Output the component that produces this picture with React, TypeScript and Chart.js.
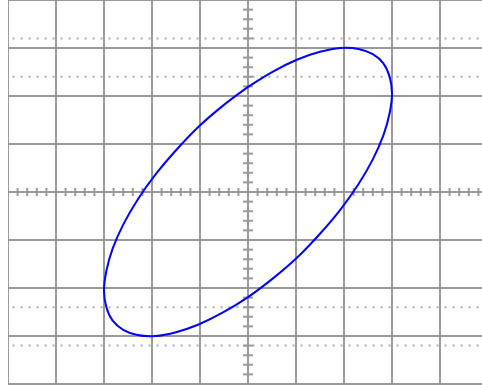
import React, { useEffect, useRef } from "react";
import { Chart, registerables } from "chart.js";

Chart.register(...registerables);

// Graticule: 10 x 8 divisions
const xRange = [-5, 5];
const yRange = [-4, 4];
const dottedLevels = [3.2, 2.4, -2.4, -3.2];

// Lissajous trace (divisions)
const traceX = [
  0.0, 0.52, 1.03, 1.5, 1.93, 2.3, 2.6, 2.82, 2.95, 3.0, 2.95, 2.82, 2.6, 2.3, 1.93, 1.5, 1.03, 0.52,
  0.0, -0.52, -1.03, -1.5, -1.93, -2.3, -2.6, -2.82, -2.95, -3.0, -2.95, -2.82, -2.6, -2.3, -1.93, -1.5, -1.03, -0.52, 0.0,
];
const traceY = [
  2.19, 2.51, 2.76, 2.92, 3.0, 2.98, 2.87, 2.68, 2.4, 2.05, 1.64, 1.18, 0.68, 0.16, -0.36, -0.87, -1.36, -1.8,
  -2.19, -2.51, -2.76, -2.92, -3.0, -2.98, -2.87, -2.68, -2.4, -2.05, -1.64, -1.18, -0.68, -0.16, 0.36, 0.87, 1.36, 1.8, 2.19,
];

// minor subdivisions on the centre axes (5 per division)
const minorX = Array.from({ length: 51 }, (_, i) => xRange[0] + i * 0.2).filter(
  (v) => Math.abs(v - Math.round(v)) > 1e-6
);
const minorY = Array.from({ length: 41 }, (_, i) => yRange[0] + i * 0.2).filter(
  (v) => Math.abs(v - Math.round(v)) > 1e-6
);

const GRID = "#9a9a9a";

export default function App() {
  const ref = useRef<HTMLCanvasElement | null>(null);
  useEffect(() => {
    if (!ref.current) return;
    const chart = new Chart(ref.current, {
      type: "line",
      data: {
        datasets: [
          {
            data: traceX.map((x, i) => ({ x, y: traceY[i] })),
            borderColor: "#0000ff",
            borderWidth: 2,
            pointRadius: 0,
            tension: 0.4,
            fill: false,
          },
          {
            data: minorX.map((x) => ({ x, y: 0 })),
            showLine: false,
            pointStyle: "line",
            pointRadius: 4,
            pointRotation: 90,
            pointBorderColor: GRID,
            pointBorderWidth: 2,
          },
          {
            data: minorY.map((y) => ({ x: 0, y })),
            showLine: false,
            pointStyle: "line",
            pointRadius: 5,
            pointRotation: 0,
            pointBorderColor: GRID,
            pointBorderWidth: 2,
          },
          ...dottedLevels.map((lv) => ({
            data: [
              { x: xRange[0], y: lv },
              { x: xRange[1], y: lv },
            ],
            borderColor: "#b0b0b0",
            borderWidth: 2,
            borderDash: [2, 6],
            borderDashOffset: 3.5,
            pointRadius: 0,
            fill: false,
          })),
        ] as any,
      },
      options: {
        animation: false,
        responsive: true,
        maintainAspectRatio: false,
        events: [],
        layout: { autoPadding: false, padding: { left: 0, right: 0, top: 0, bottom: 1 } },
        plugins: { legend: { display: false }, tooltip: { enabled: false } },
        scales: {
          x: {
            type: "linear",
            min: xRange[0],
            max: xRange[1],
            ticks: { display: false, stepSize: 1 },
            grid: { color: GRID, lineWidth: 2, drawTicks: false },
            border: { display: false },
          },
          y: {
            type: "linear",
            min: yRange[0],
            max: yRange[1],
            ticks: { display: false, stepSize: 1 },
            grid: { color: GRID, lineWidth: 2, drawTicks: false },
            border: { display: false },
          },
        },
      },
    } as any);
    return () => chart.destroy();
  }, []);
  return (
    <div
      style={{
        position: "fixed",
        left: 8,
        top: 0,
        width: 474,
        height: 385,
        overflow: "hidden",
        background: "#fff",
      }}
    >
      <div style={{ position: "relative", width: 480, height: 385 }}>
        <canvas ref={ref} />
      </div>
    </div>
  );
}
